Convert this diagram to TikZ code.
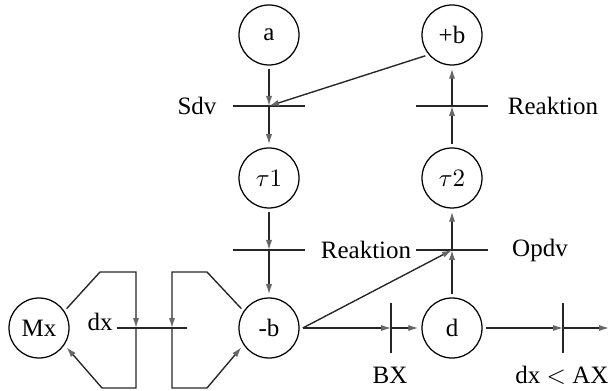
\documentclass[tikz,border=0pt]{standalone}
\usepackage{fontspec}
\setmainfont{Liberation Serif}
\usetikzlibrary{arrows.meta}

\begin{document}
\begin{tikzpicture}[x=0.4pt, y=-0.4pt, >={Latex[length=4pt,width=2.5pt,color=black!60]},
  place/.style={circle, draw, line width=0.5pt, minimum size=24pt, inner sep=0pt, outer sep=1.5pt},
  arc/.style={->, line width=0.55pt, draw=black!85},
  bar/.style={line width=0.6pt, draw=black!85}]
  \useasboundingbox (0,0) rectangle (611,391);
  % Stellen
  \node[place] (a)  at (269,35)  {a};
  \node[place] (pb) at (452,35)  {+b};
  \node[place] (t1) at (269,178) {$\tau 1$};
  \node[place] (t2) at (452,178) {$\tau 2$};
  \node[place] (mx) at (39,328)  {Mx};
  \node[place] (mb) at (269,328) {-b};
  \node[place] (d)  at (452,328) {d};
  % Transitionen
  \coordinate (sdv)  at (269,106);
  \coordinate (rk1)  at (269,250);
  \coordinate (rk2)  at (452,106);
  \coordinate (opdv) at (452,250);
  \coordinate (bx)   at (391,328);
  \coordinate (ax)   at (563,328);
  \coordinate (dx1)  at (136,328);
  \coordinate (dx2)  at (172,328);
  \coordinate (out)  at (609,328);
  \coordinate (top)  at (0,272);
  \coordinate (bot)  at (0,388);
  \foreach \t in {sdv,rk1,rk2,opdv} \draw[bar] (\t) +(-36,0) -- +(36,0);
  \foreach \t in {bx,ax} \draw[bar] (\t) +(0,-25) -- +(0,25);
  \draw[bar] (dx1) +(-19,0) -- (dx2) -- +(15,0);
  % Kanten
  \draw[arc] (a) -- (sdv);
  \draw[arc] (sdv) -- (t1);
  \draw[arc] (pb.218) -- (sdv);
  \draw[arc] (t1) -- (rk1);
  \draw[arc] (rk1) -- (mb);
  \draw[arc] (mb.east) -- (opdv);
  \draw[arc] (d) -- (opdv);
  \draw[arc] (opdv) -- (t2);
  \draw[arc] (t2) -- (rk2);
  \draw[arc] (rk2) -- (pb);
  \draw[arc] (mb.east) -- (bx);
  \draw[arc] (bx) -- (d);
  \draw[arc] (d) -- (ax);
  \draw[arc] (ax) -- (out);
  \draw[arc] (mx.35) -- (100,272) -- (dx1 |- top) -- (dx1);
  \draw[arc] (dx1) -- (dx1 |- bot) -- (102,388) -- (mx.-35);
  \draw[arc] (mb.145) -- (207,272) -- (dx2 |- top) -- (dx2);
  \draw[arc] (dx2) -- (dx2 |- bot) -- (207,388) -- (mb.-145);
  % Beschriftungen
  \node (sdvl)  at (197,106) {Sdv};
  \node (rk1l)  at (366,250) {Reaktion};
  \node (rk2l)  at (553,106) {Reaktion};
  \node (opdvl) at (540,250) {Opdv};
  \node (dxl)   at (100,322) {dx};
  \node (bxl)   at (390,375) {BX};
  \node (axl)   at (562,375) {dx $<$ AX};
\end{tikzpicture}
\end{document}
